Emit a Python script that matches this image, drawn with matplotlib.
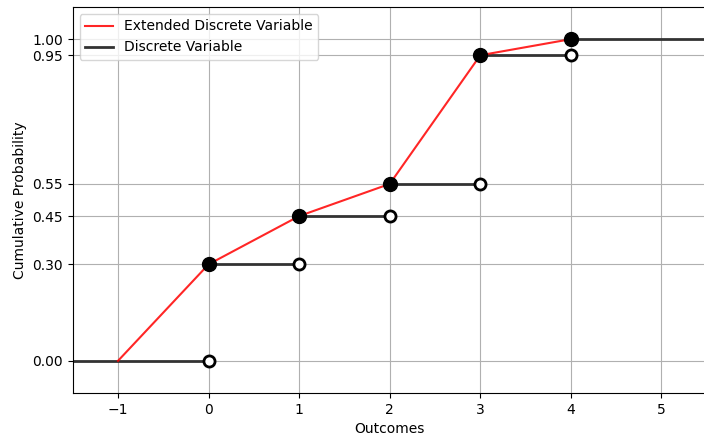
import numpy as np
import matplotlib.pyplot as plt

outcomes = [-1, 0, 1, 2, 3, 4]
cum_prob = [0.0, 0.30, 0.45, 0.55, 0.95, 1.00]
yticks = [0.0, 0.30, 0.45, 0.55, 0.95, 1.00]

fig = plt.figure(figsize=(7.04, 4.37), dpi=100)
ax = fig.add_axes([0.1033, 0.1007, 0.9006, 0.8833])

# step segments of the discrete cdf
starts = [-1.5] + outcomes[1:]
ends = outcomes[1:] + [5.5]
levels = cum_prob
for i in range(len(starts)):
    ax.plot([starts[i], ends[i]], [levels[i], levels[i]], color='#333333', lw=2,
            label='Discrete Variable' if i == 0 else None, zorder=2)

ax.plot(outcomes, cum_prob, color='red', lw=1.5, alpha=0.85,
        label='Extended Discrete Variable', zorder=3)

# open circles at the end of each step, filled at the jumps
ax.plot(outcomes[1:], cum_prob[:-1], 'o', ms=8, mfc='white', mec='black', mew=2, zorder=4)
ax.plot(outcomes[1:], cum_prob[1:], 'o', ms=10, color='black', zorder=5)

ax.set_xlim(-1.5, 5.5)
ax.set_ylim(-0.1, 1.1)
ax.set_yticks(yticks)
ax.set_yticklabels(['%.2f' % v for v in yticks])
ax.set_xticks(range(-1, 6))
ax.grid(True, color='#b0b0b0', lw=0.8)
ax.set_axisbelow(True)
ax.set_xlabel('Outcomes')
ax.set_ylabel('Cumulative Probability')
ax.spines['right'].set_visible(False)

h, l = ax.get_legend_handles_labels()
ax.legend(h[::-1], l[::-1], loc='upper left')

fig.savefig('out.png', dpi=100)
